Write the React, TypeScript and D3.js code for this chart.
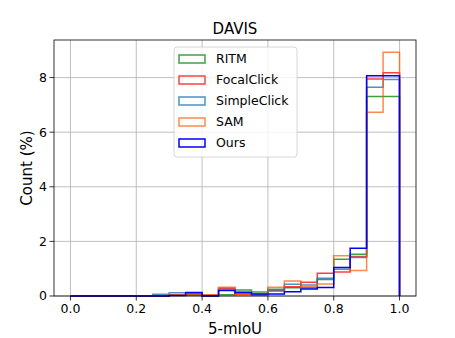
import React from "react";
import * as d3 from "d3";

const binEdges = d3.range(0, 21).map((i) => i * 0.05);
const xTicks = [0, 0.2, 0.4, 0.6, 0.8, 1.0];
const yTicks = [0, 2, 4, 6, 8];

const ritm = [0, 0, 0, 0, 0, 0, 0.03, 0.06, 0, 0.05, 0.22, 0.15, 0.25, 0.3, 0.3, 0.6, 1.35, 1.53, 7.31, 7.31];
const focalClick = [0, 0, 0, 0, 0, 0, 0.03, 0.03, 0.03, 0.28, 0.06, 0.04, 0.2, 0.34, 0.5, 0.83, 0.88, 1.45, 7.95, 8.18];
const simpleClick = [0, 0, 0, 0, 0, 0.06, 0.12, 0.1, 0.02, 0.24, 0.16, 0.06, 0.18, 0.43, 0.4, 0.65, 0.98, 1.41, 7.65, 7.93];
const sam = [0, 0, 0, 0, 0, 0, 0.05, 0.04, 0.05, 0.32, 0.05, 0.03, 0.32, 0.55, 0.34, 0.44, 1.47, 0.93, 6.73, 8.93];
const ours = [0, 0, 0, 0, 0, 0, 0.02, 0.13, 0, 0.2, 0.12, 0.07, 0.07, 0.16, 0.26, 0.31, 1.04, 1.75, 8.07, 8.07];

const seriesNames = ["RITM", "FocalClick", "SimpleClick", "SAM", "Ours"];
const seriesValues = [ritm, focalClick, simpleClick, sam, ours];
const seriesColors = ["#008000", "#ff0000", "#1f77b4", "#ff5500", "#0000ff"];
const seriesOpacity = [0.75, 0.75, 0.8, 0.7, 1];

const W = 455;
const H = 338;
const M = { left: 54, right: 416, top: 40, bottom: 296 };
const FONT = "DejaVu Sans, sans-serif";

export default function App() {
  const x = d3.scaleLinear().domain([-0.05, 1.05]).range([M.left, M.right]);
  const ymax = d3.max(seriesValues.flat())! * 1.05;
  const y = d3.scaleLinear().domain([0, ymax]).range([M.bottom, M.top]);

  const stepPath = (vals: number[]) => {
    const pts: [number, number][] = [[binEdges[0], 0]];
    vals.forEach((v, i) => {
      pts.push([binEdges[i], v]);
      pts.push([binEdges[i + 1], v]);
    });
    pts.push([binEdges[binEdges.length - 1], 0]);
    return d3.line<[number, number]>().x((d) => x(d[0])).y((d) => y(d[1]))(pts) ?? "";
  };

  const lg = { x: 174, y: 47, w: 123, h: 110 };

  return (
    <svg width={W} height={H} style={{ position: "absolute", left: 0, top: 0 }} fontFamily={FONT}>
      <rect width={W} height={H} fill="#fff" />
      {/* grid */}
      {xTicks.map((t) => (
        <line key={"gx" + t} x1={x(t)} x2={x(t)} y1={M.top} y2={M.bottom} stroke="#b0b0b0" strokeWidth={0.8} />
      ))}
      {yTicks.map((t) => (
        <line key={"gy" + t} x1={M.left} x2={M.right} y1={y(t)} y2={y(t)} stroke="#b0b0b0" strokeWidth={0.8} />
      ))}
      {/* histograms */}
      {seriesValues.map((vals, i) => (
        <path key={seriesNames[i]} d={stepPath(vals)} fill="none" stroke={seriesColors[i]} strokeOpacity={seriesOpacity[i]} strokeWidth={1.5} strokeLinejoin="miter" />
      ))}
      {/* frame */}
      <rect x={M.left} y={M.top} width={M.right - M.left} height={M.bottom - M.top} fill="none" stroke="#000" strokeWidth={0.8} />
      {/* x ticks */}
      {xTicks.map((t) => (
        <g key={"tx" + t}>
          <line x1={x(t)} x2={x(t)} y1={M.bottom} y2={M.bottom + 4.5} stroke="#000" strokeWidth={0.8} />
          <text x={x(t)} y={M.bottom + 17} textAnchor="middle" fontSize={12.5} fill="#000">
            {t.toFixed(1)}
          </text>
        </g>
      ))}
      {/* y ticks */}
      {yTicks.map((t) => (
        <g key={"ty" + t}>
          <line x1={M.left - 4.5} x2={M.left} y1={y(t)} y2={y(t)} stroke="#000" strokeWidth={0.8} />
          <text x={M.left - 7} y={y(t)} dy="0.35em" textAnchor="end" fontSize={12.5} fill="#000">
            {t}
          </text>
        </g>
      ))}
      {/* title and labels */}
      <text x={(M.left + M.right) / 2} y={34} textAnchor="middle" fontSize={15} fill="#000">DAVIS</text>
      <text x={(M.left + M.right) / 2} y={334} textAnchor="middle" fontSize={15} fill="#000">5-mIoU</text>
      <text transform={`translate(32,${(M.top + M.bottom) / 2}) rotate(-90)`} textAnchor="middle" fontSize={15} fill="#000">
        Count (%)
      </text>
      {/* legend */}
      <rect x={lg.x} y={lg.y} width={lg.w} height={lg.h} rx={3} fill="#fff" fillOpacity={0.8} stroke="#cccccc" strokeWidth={0.8} />
      {seriesNames.map((n, i) => {
        const cy = 59 + i * 21;
        return (
          <g key={"lg" + n}>
            <rect x={179} y={cy - 4} width={26} height={8} fill="none" stroke={seriesColors[i]} strokeOpacity={seriesOpacity[i]} strokeWidth={1.5} />
            <text x={216} y={cy} dy="0.35em" fontSize={12.5} fill="#000">{n}</text>
          </g>
        );
      })}
    </svg>
  );
}
